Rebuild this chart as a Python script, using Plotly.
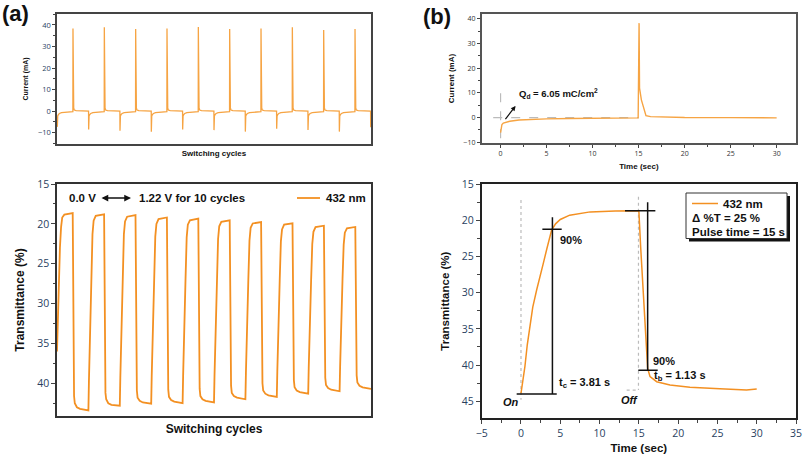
import plotly.graph_objects as go

# ---- (a) switching cycles : 10 cycles of 30 s (15 s on / 15 s off)
cycle_start = [0, 30, 60, 90, 120, 150, 180, 210, 240, 270]

# current (mA): spike heights per cycle
neg_peak = [-7.3, -8.5, -9.1, -9.6, -8.5, -8.8, -9.5, -8.2, -8.7, -9.5]
pos_peak = [38.4, 38.9, 38.1, 38.4, 39.1, 38.1, 38.4, 38.9, 37.7, 38.1]
color_phase = [0.05, 0.4, 1.0, 2.0, 4.0, 8.0, 14.9]
color_tail = [-3.5, -2.2, -1.6, -1.1, -0.7, -0.4, -0.2]
bleach_phase = [15.15, 15.4, 15.7, 16.3, 18.0, 29.9]
bleach_tail = [12.0, 6.0, 1.5, 0.5, 0.2, 0.05]

# transmittance (%) within each cycle
T_phase = [0, 0.5, 1.2, 2.0, 2.8, 3.9, 5.0, 7.0, 15.0, 15.2, 15.6, 15.9, 16.3, 17.0, 19.0, 22.0]
T_cycles = [
    [36.0, 33.0, 29.0, 25.5, 23.0, 20.4, 19.2, 18.85, 18.65, 22.0, 31.0, 39.0, 41.6, 42.5, 43.0, 43.2],
    [43.4, 39.8, 35.0, 30.8, 27.0, 21.3, 19.6, 19.0, 18.8, 22.1, 31.0, 38.5, 41.2, 42.0, 42.5, 42.7],
    [42.8, 39.3, 34.6, 30.4, 26.7, 21.3, 19.7, 19.1, 18.9, 22.2, 30.8, 38.3, 40.9, 41.8, 42.2, 42.4],
    [42.55, 39.1, 34.5, 30.4, 26.8, 21.6, 20.0, 19.4, 19.2, 22.5, 30.9, 38.2, 40.8, 41.7, 42.1, 42.3],
    [42.5, 39.1, 34.5, 30.5, 26.9, 21.7, 20.1, 19.55, 19.35, 22.6, 30.9, 38.1, 40.7, 41.6, 42.0, 42.2],
    [42.4, 39.0, 34.5, 30.5, 27.0, 21.9, 20.3, 19.75, 19.56, 22.8, 30.8, 37.8, 40.3, 41.2, 41.6, 41.8],
    [42.0, 38.7, 34.3, 30.4, 27.0, 22.1, 20.5, 19.95, 19.77, 22.9, 30.7, 37.5, 40.0, 40.9, 41.3, 41.5],
    [41.7, 38.5, 34.1, 30.3, 27.0, 22.2, 20.7, 20.1, 19.93, 23.0, 30.5, 37.1, 39.6, 40.5, 40.9, 41.1],
    [41.3, 38.1, 33.9, 30.2, 27.0, 22.5, 21.0, 20.4, 20.23, 23.2, 30.4, 36.9, 39.3, 40.2, 40.6, 40.8],
    [41.0, 37.9, 33.8, 30.1, 26.9, 22.6, 21.1, 20.55, 20.39, 23.3, 30.3, 36.6, 39.0, 39.9, 40.3, 40.5],
]
end_t, end_T, end_i = 300, 40.7, -7.5

# ---- (b) one cycle
t_cur = [0, 0.05, 0.15, 0.3, 0.6, 1, 2, 3, 5, 7.5, 10, 12.5, 14.95,
         15.05, 15.1, 15.3, 15.6, 15.8, 16.3, 17.5, 20, 25, 30]
i_cur = [-6.1, -4.0, -2.8, -2.2, -1.8, -1.5, -1.0, -0.8, -0.5, -0.35, -0.25, -0.15, -0.1,
         38.3, 12.0, 7.2, 3.1, 0.8, 0.4, 0.2, 0.05, 0.0, -0.1]

t_T = [0, 0.25, 0.5, 0.8, 1.15, 1.5, 2.0, 2.4, 2.84, 3.3, 3.9, 4.4, 5.0, 6.2, 8.8, 12, 15,
       15.23, 15.57, 15.9, 16.12, 16.42, 17.27, 18.96, 21.5, 25.3, 28.7, 30]
T_one = [43.9, 42.1, 40.2, 37.2, 34.2, 32.0, 29.6, 27.7, 25.95, 23.9, 21.35, 20.5, 19.9, 19.3, 18.85, 18.72, 18.68,
         23.7, 30.6, 37.5, 40.45, 41.6, 42.3, 42.75, 43.07, 43.26, 43.45, 43.3]

# response-time guide lines (time, T)
guide_black = [
    ([-0.55, 4.55], [44.0, 44.0]),
    ([4.0, 4.0], [19.6, 44.0]),
    ([2.72, 5.18], [21.26, 21.26]),
    ([13.24, 17.1], [18.7, 18.7]),
    ([16.12, 16.12], [17.53, 40.7]),
    ([14.93, 17.4], [40.7, 40.7]),
]
guide_dotted = [
    ([0, 0], [17.2, 44.8]),
    ([14.95, 14.95], [16.75, 43.45]),
    ([13.45, 14.95], [43.45, 43.45]),
]
guide_dashed = [
    ([-0.8, 15], [0, 0]),
    ([0, 0], [9.9, -9.1]),
]

ORANGE = '#F39022'
ORANGE_L = '#F6A443'
FONT = 'Liberation Sans, Arial, sans-serif'
W, H = 803, 454


def px(x):
    return x / W


def py(y):
    return 1 - y / H


# build the cycle series
xa_i, ya_i, xa_T, ya_T = [], [], [], []
for k, s in enumerate(cycle_start):
    xa_i += [s] + [s + p for p in color_phase] + [s + 15.0] + [s + p for p in bleach_phase]
    ya_i += [neg_peak[k]] + color_tail + [pos_peak[k]] + bleach_tail
    xa_T += [s + p for p in T_phase]
    ya_T += T_cycles[k]
xa_i.append(end_t)
ya_i.append(end_i)
xa_T.append(end_t)
ya_T.append(end_T)

fig = go.Figure()
fig.add_trace(go.Scatter(x=xa_i, y=ya_i, mode='lines', line=dict(color=ORANGE_L, width=1.3),
                         xaxis='x', yaxis='y'))
fig.add_trace(go.Scatter(x=xa_T, y=ya_T, mode='lines', line=dict(color=ORANGE, width=1.8),
                         xaxis='x2', yaxis='y2'))
for gx, gy in guide_dashed:
    fig.add_trace(go.Scatter(x=gx, y=gy, mode='lines', line=dict(color='#BBBBBB', width=1.2, dash='dash'),
                             xaxis='x3', yaxis='y3'))
fig.add_trace(go.Scatter(x=t_cur, y=i_cur, mode='lines', line=dict(color=ORANGE_L, width=1.4),
                         xaxis='x3', yaxis='y3'))
for gx, gy in guide_dotted:
    fig.add_trace(go.Scatter(x=gx, y=gy, mode='lines', line=dict(color='#BBBBBB', width=1.2, dash='dot'),
                             xaxis='x4', yaxis='y4'))
fig.add_trace(go.Scatter(x=t_T, y=T_one, mode='lines', line=dict(color=ORANGE, width=1.5),
                         xaxis='x4', yaxis='y4'))
for gx, gy in guide_black:
    fig.add_trace(go.Scatter(x=gx, y=gy, mode='lines', line=dict(color='#111111', width=1.5),
                             xaxis='x4', yaxis='y4'))


def ax(**kw):
    base = dict(showline=True, mirror=True, linewidth=1.5, showgrid=False, zeroline=False,
                ticks='outside', automargin=False,
                tickfont=dict(family=FONT, weight='bold', color='#111'),
                title_font=dict(family=FONT, weight='bold', color='#111'))
    base.update(kw)
    return base


dom_ax = [px(57), px(371)]
dom_bx = [px(481.7), px(796)]

fig.update_layout(
    width=W, height=H, margin=dict(l=0, r=0, t=0, b=0),
    paper_bgcolor='white', plot_bgcolor='white', showlegend=False,
    xaxis=ax(domain=dom_ax, anchor='y', range=[-0.3, 300.3], showticklabels=False, ticks='',
             linecolor='#444', title=dict(text='Switching cycles', standoff=6, font=dict(size=8))),
    yaxis=ax(domain=[py(144), py(14)], anchor='x', range=[-15.25, 45.1], linecolor='#444',
             tickvals=[-10, 0, 10, 20, 30, 40], ticklen=3, tickfont=dict(size=7.5),
             minor=dict(ticks='outside', ticklen=2, dtick=5, tick0=0),
             title=dict(text='Current (mA)', standoff=8, font=dict(size=7))),
    xaxis2=ax(domain=dom_ax, anchor='y2', range=[0, 300], showticklabels=False, ticks='',
              linecolor='#333', title=dict(text='Switching cycles', standoff=8, font=dict(size=12))),
    yaxis2=ax(domain=[py(416), py(184)], anchor='x2', range=[44.1, 15], linecolor='#333',
              tickvals=[15, 20, 25, 30, 35, 40], ticklen=4, tickfont=dict(size=10.5),
              minor=dict(ticks='outside', ticklen=2.5, dtick=2.5, tick0=15),
              title=dict(text='Transmittance (%)', standoff=10, font=dict(size=12))),
    xaxis3=ax(domain=dom_bx, anchor='y3', range=[-2.05, 32.1], linecolor='#555',
              tickvals=[0, 5, 10, 15, 20, 25, 30], ticklen=3, tickfont=dict(size=7, color='#333'),
              minor=dict(ticks='outside', ticklen=2, dtick=2.5, tick0=0),
              title=dict(text='Time (sec)', standoff=6, font=dict(size=8))),
    yaxis3=ax(domain=[py(143), py(14)], anchor='x3', range=[-10.3, 42], linecolor='#555',
              tickvals=[-10, 0, 10, 20, 30, 40], ticklen=3, tickfont=dict(size=7, color='#333'),
              minor=dict(ticks='outside', ticklen=2, dtick=5, tick0=0),
              title=dict(text='Current (mA)', standoff=8, font=dict(size=8))),
    xaxis4=ax(domain=dom_bx, anchor='y4', range=[-5, 35], linecolor='#222',
              tickvals=[-5, 0, 5, 10, 15, 20, 25, 30, 35], ticklen=4, tickfont=dict(size=10.5),
              minor=dict(ticks='outside', ticklen=2.5, dtick=2.5, tick0=0),
              title=dict(text='Time (sec)', standoff=6, font=dict(size=11.5))),
    yaxis4=ax(domain=[py(418.3), py(184)], anchor='x4', range=[47.35, 15], linecolor='#222',
              tickvals=[15, 20, 25, 30, 35, 40, 45], ticklen=4, tickfont=dict(size=10.5),
              minor=dict(ticks='outside', ticklen=2.5, dtick=2.5, tick0=15),
              title=dict(text='Transmittance (%)', standoff=10, font=dict(size=11.5))),
)

bold = dict(family=FONT, weight='bold', color='#111')
ann = []
# panel letters
ann.append(dict(x=px(0), y=py(13), xref='paper', yref='paper', xanchor='left', yanchor='middle',
                text='(a)', showarrow=False, font=dict(size=22, **bold)))
ann.append(dict(x=px(421), y=py(17), xref='paper', yref='paper', xanchor='left', yanchor='middle',
                text='(b)', showarrow=False, font=dict(size=22, **bold)))
# (a) lower panel labels
ann.append(dict(x=px(67), y=py(198), xref='paper', yref='paper', xanchor='left', yanchor='middle',
                text='0.0 V', showarrow=False, font=dict(size=11.5, **bold)))
ann.append(dict(x=px(131), y=py(198), xref='paper', yref='paper', ax=-31, ay=0, text='',
                showarrow=True, arrowhead=2, startarrowhead=2, arrowside='end+start',
                arrowsize=0.9, startarrowsize=0.9, arrowwidth=1.5, arrowcolor='#111'))
ann.append(dict(x=px(137), y=py(198), xref='paper', yref='paper', xanchor='left', yanchor='middle',
                text='1.22 V for 10 cycles', showarrow=False, font=dict(size=11.5, **bold)))
ann.append(dict(x=px(324), y=py(198), xref='paper', yref='paper', xanchor='left', yanchor='middle',
                text='432 nm', showarrow=False, font=dict(size=11.5, **bold)))
# (b) top labels
ann.append(dict(x=1.74, y=9.6, xref='x3', yref='y3', xanchor='left', yanchor='middle',
                text='Q<sub>d</sub> = 6.05 mC/cm<sup>2</sup>', showarrow=False, font=dict(size=9.5, **bold)))
ann.append(dict(x=1.63, y=4.7, xref='x3', yref='y3', ax=0.4, ay=-1.25, axref='x3', ayref='y3',
                text='', showarrow=True, arrowhead=2, arrowsize=0.8, arrowwidth=1.2, arrowcolor='#111'))
# (b) bottom labels
for x, y, t, anc, it in [(4.75, 22.8, '90%', 'left', False),
                         (4.55, 42.5, 't<sub>c</sub> = 3.81 s', 'left', False),
                         (-1.25, 45.15, 'On', 'center', True),
                         (13.75, 44.8, 'Off', 'center', True),
                         (16.6, 39.4, '90%', 'left', False),
                         (16.7, 41.5, 't<sub>b</sub> = 1.13 s', 'left', False)]:
    f = dict(size=11, **bold)
    if it:
        f['style'] = 'italic'
    ann.append(dict(x=x, y=y, xref='x4', yref='y4', xanchor=anc, yanchor='middle', text=t,
                    showarrow=False, font=f))
# (b) bottom legend text
ann.append(dict(x=px(721), y=py(203.5), xref='paper', yref='paper', xanchor='left', yanchor='middle',
                text='432 nm', showarrow=False, font=dict(size=11.5, **bold)))
ann.append(dict(x=px(690), y=py(217.5), xref='paper', yref='paper', xanchor='left', yanchor='middle',
                text='Δ %T = 25 %', showarrow=False, font=dict(size=11.5, **bold)))
ann.append(dict(x=px(690), y=py(231.5), xref='paper', yref='paper', xanchor='left', yanchor='middle',
                text='Pulse time = 15 s', showarrow=False, font=dict(size=11.5, **bold)))
fig.update_layout(annotations=ann)

shapes = [
    # legend key (a)
    dict(type='line', xref='paper', yref='paper', x0=px(297), x1=px(320), y0=py(198), y1=py(198),
         line=dict(color=ORANGE, width=1.8)),
    # legend box (b) with shadow
    dict(type='rect', xref='paper', yref='paper', x0=px(689), x1=px(790), y0=py(241.5), y1=py(196),
         fillcolor='#111', line=dict(width=0), layer='above'),
    dict(type='rect', xref='paper', yref='paper', x0=px(686), x1=px(787), y0=py(238.5), y1=py(193),
         fillcolor='white', line=dict(color='#333', width=1), layer='above'),
    dict(type='line', xref='paper', yref='paper', x0=px(692), x1=px(718), y0=py(203.5), y1=py(203.5),
         line=dict(color=ORANGE, width=1.5), layer='above'),
]
fig.update_layout(shapes=shapes)

# the page body has a default 8px margin; drop it so the figure fills the window
fig.write_html('out.html', config={'displayModeBar': False},
               post_script="document.body.style.margin='0';")
